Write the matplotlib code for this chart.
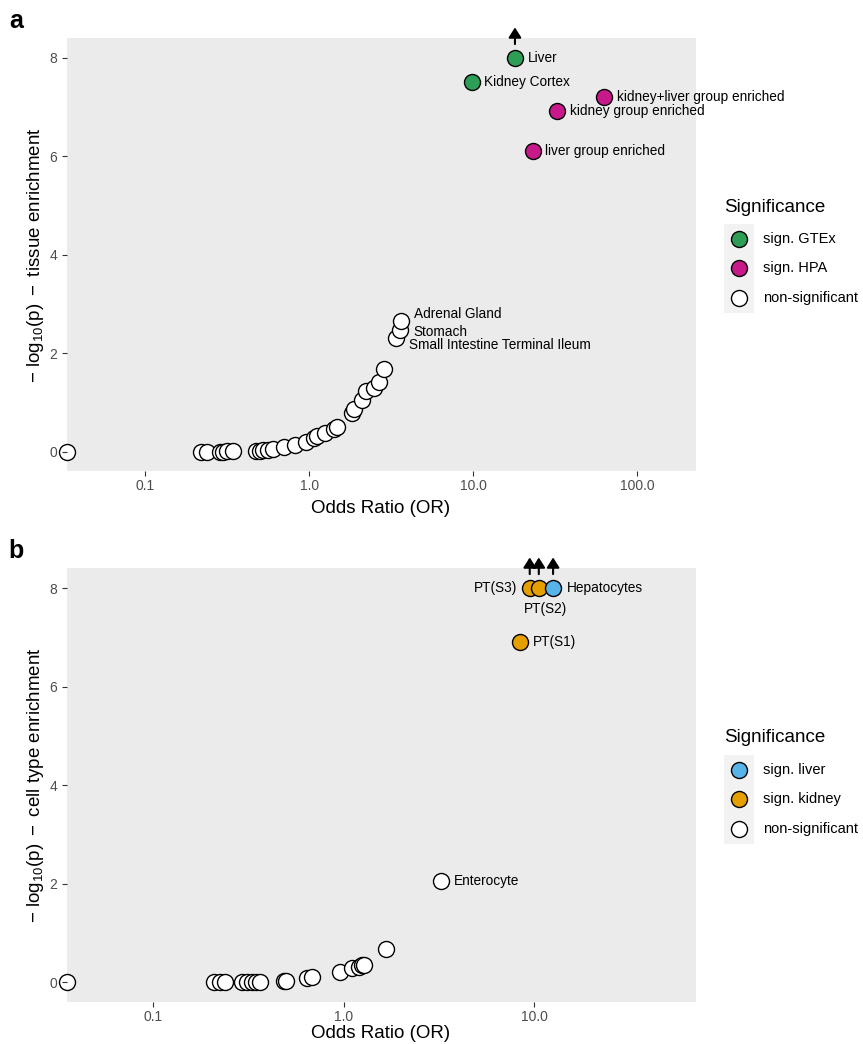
import numpy as np
import matplotlib
matplotlib.use('Agg')
import matplotlib.pyplot as plt
from matplotlib.patches import Rectangle

plt.rcParams['font.family'] = ['Liberation Sans', 'DejaVu Sans']
plt.rcParams['mathtext.fontset'] = 'custom'
plt.rcParams['mathtext.rm'] = 'Liberation Sans'
plt.rcParams['mathtext.it'] = 'Liberation Sans:italic'
plt.rcParams['mathtext.bf'] = 'Liberation Sans:bold'

W, H = 863, 1044
CAP = 8  # -log10(p) values are capped here, arrow marks the cap

# ---- panel a : tissue enrichment ----
tis_name = ['', '', '', '', '', '', '', '', '', '', '', '', '', '', '', '', '', '', '', '', '', '', '', '', '', '', '',
            'Small Intestine Terminal Ileum', 'Stomach', 'Adrenal Gland',
            'liver group enriched', 'kidney group enriched', 'kidney+liver group enriched',
            'Kidney Cortex', 'Liver']
tis_or = [0.0, 0.219, 0.238, 0.285, 0.297, 0.314, 0.344, 0.472, 0.499, 0.527, 0.560, 0.60, 0.705,
          0.82, 0.955, 1.07, 1.12, 1.25, 1.42, 1.49, 1.83, 1.87, 2.09, 2.21, 2.48, 2.66, 2.86,
          3.38, 3.59, 3.62,
          23.2, 32.5, 63.0,
          9.9, 18.0]
tis_logp = [0.0, 0.0, 0.0, 0.0, 0.0, 0.01, 0.01, 0.02, 0.02, 0.03, 0.04, 0.05, 0.10,
            0.14, 0.19, 0.27, 0.32, 0.39, 0.47, 0.50, 0.78, 0.87, 1.05, 1.24, 1.29, 1.41, 1.68,
            2.31, 2.47, 2.66,
            6.10, 6.92, 7.21,
            7.52, 8.0]
tis_group = ['non-significant'] * 30 + ['sign. HPA'] * 3 + ['sign. GTEx'] * 2
tis_levels = ['sign. GTEx', 'sign. HPA', 'non-significant']
tis_xticks = [0.1, 1, 10, 100]
tis_xticklabels = ['0.1', '1.0', '10.0', '100.0']

# ---- panel b : cell type enrichment ----
cell_name = ['', '', '', '', '', '', '', '', '', '', '', '', '', '', '', '', '', '', '',
             'Enterocyte', 'PT(S1)', 'PT(S3)', 'PT(S2)', 'Hepatocytes']
cell_or = [0.0, 0.209, 0.224, 0.238, 0.292, 0.310, 0.330, 0.347, 0.365, 0.488, 0.50, 0.641, 0.682,
           0.962, 1.11, 1.20, 1.25, 1.28, 1.67,
           3.23, 8.4, 9.5, 10.6, 12.6]
cell_logp = [0.0, 0.0, 0.0, 0.0, 0.0, 0.0, 0.0, 0.01, 0.01, 0.03, 0.03, 0.08, 0.10,
             0.21, 0.28, 0.32, 0.35, 0.36, 0.67,
             2.05, 6.9, 8.0, 8.0, 8.0]
cell_group = ['non-significant'] * 20 + ['sign. kidney'] * 3 + ['sign. liver']
cell_levels = ['sign. liver', 'sign. kidney', 'non-significant']
cell_xticks = [0.1, 1, 10]
cell_xticklabels = ['0.1', '1.0', '10.0']

colors = {'sign. GTEx': '#2E9E56', 'sign. HPA': '#C8198B', 'non-significant': 'white',
          'sign. liver': '#56B4E9', 'sign. kidney': '#E69F00'}

# label offsets in pixels (dx, dy), y down, and alignment
label_pos = {'Liver': (13, 0, 'left'), 'Kidney Cortex': (12, 0, 'left'),
             'kidney+liver group enriched': (13, 0, 'left'),
             'kidney group enriched': (13, 0, 'left'), 'liver group enriched': (12, 0, 'left'),
             'Adrenal Gland': (13, -7, 'left'), 'Stomach': (13, 2, 'left'),
             'Small Intestine Terminal Ileum': (13, 7, 'left'),
             'Hepatocytes': (14, 0, 'left'), 'PT(S2)': (7, 21, 'center'),
             'PT(S3)': (-12, 0, 'right'), 'PT(S1)': (13, 0, 'left'), 'Enterocyte': (13, 0, 'left')}

PX = 0.72  # points per pixel at dpi 100
MS = (16 * PX) ** 2

fig = plt.figure(figsize=(W / 100, H / 100), dpi=100)


def panel(rect, names, ors, logp, groups, levels, xlim, xticks, xticklabels, ylab, xlab_y):
    ax = fig.add_axes([rect[0] / W, 1 - rect[3] / H, (rect[2] - rect[0]) / W, (rect[3] - rect[1]) / H])
    ax.set_facecolor('#EBEBEB')
    ax.set_axisbelow(False)
    for s in ax.spines.values():
        s.set_visible(False)
    ax.set_xscale('log')
    ax.set_xlim(xlim)
    ax.set_ylim(-0.4, 8.4)
    ors = np.maximum(np.array(ors, dtype=float), xlim[0])
    logp = np.array(logp)
    groups = np.array(groups)
    for lev in levels[::-1]:
        m = groups == lev
        ax.scatter(ors[m], logp[m], s=MS, c=colors[lev], edgecolors='black', linewidths=1.0,
                   zorder=2 if lev == 'non-significant' else 3, clip_on=False)
    for n, x, y in zip(names, ors, logp):
        if y >= CAP:
            ax.annotate('', xy=(x, y), xytext=(0, 22), textcoords='offset points',
                        arrowprops=dict(arrowstyle='<|-,head_length=0.6,head_width=0.38',
                                        color='black', lw=1.5, shrinkA=0, shrinkB=10,
                                        mutation_scale=10),
                        annotation_clip=False, zorder=4)
        if n:
            dx, dy, ha = label_pos[n]
            ax.annotate(n, xy=(x, y), xytext=(dx * PX, -dy * PX), textcoords='offset points',
                        ha=ha, va='center', fontsize=9.8, color='black', zorder=5)
    ax.set_xticks(xticks)
    ax.set_xticklabels(xticklabels)
    ax.minorticks_off()
    ax.set_yticks([0, 2, 4, 6, 8])
    ax.tick_params(axis='both', length=3.5, width=0.8, color='#333333', labelcolor='#4D4D4D',
                   labelsize=10)
    ax.tick_params(axis='x', pad=2)
    ax.tick_params(axis='y', pad=3)
    ax.set_xlabel('Odds Ratio (OR)', fontsize=13.5)
    ax.xaxis.set_label_coords(0.5, xlab_y)
    ax.set_ylabel(r'$-\ \mathrm{log}_{10}(\mathrm{p})\ -$ ' + ylab, fontsize=13.5)
    ax.yaxis.set_label_coords(-0.032, 0.5)
    return ax


axA = panel((66.5, 38.3, 695.5, 471.4), tis_name, tis_or, tis_logp, tis_group, tis_levels,
            (0.0332, 227), tis_xticks, tis_xticklabels, 'tissue enrichment', -0.066)
axB = panel((66.5, 568.3, 695.5, 1002.0), cell_name, cell_or, cell_logp, cell_group, cell_levels,
            (0.0351, 70.5), cell_xticks, cell_xticklabels, 'cell type enrichment', -0.054)

# overlay in pixel coordinates for legends and panel tags
ov = fig.add_axes([0, 0, 1, 1])
ov.set_xlim(0, W)
ov.set_ylim(H, 0)
ov.axis('off')


def legend(top, levels):
    ov.text(724, top, 'Significance', fontsize=13.5, ha='left', va='center')
    y0 = top + 17
    ov.add_patch(Rectangle((724, y0), 30, 29.6 * len(levels), facecolor='#F2F2F2', edgecolor='none'))
    for i, lev in enumerate(levels):
        yc = y0 + 29.6 * (i + 0.5)
        ov.scatter([739], [yc], s=MS, c=colors[lev], edgecolors='black', linewidths=1.0)
        ov.text(763, yc, lev, fontsize=10.5, ha='left', va='center')


legend(207, tis_levels)
legend(738, cell_levels)

ov.text(9, 28, 'a', fontsize=18, fontweight='bold', ha='left', va='baseline')
ov.text(8, 558, 'b', fontsize=18, fontweight='bold', ha='left', va='baseline')

fig.savefig('out.png', dpi=100)
